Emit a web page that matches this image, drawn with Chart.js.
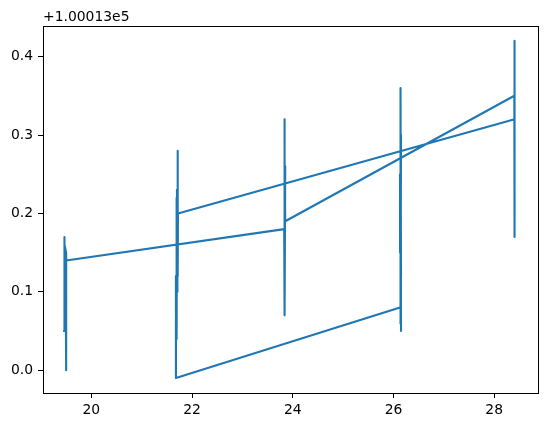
<!DOCTYPE html>
<html>
<head>
<meta charset="utf-8">
<script src="https://cdn.jsdelivr.net/npm/chart.js@4"></script>
<style>
  html, body { margin: 0; padding: 0; background: #fff; }
  #chart { display: block; }
</style>
</head>
<body>
<canvas id="chart" width="547" height="428"></canvas>
<script>
// Path visits the five clusters in the order 1 -> 3 -> 5 -> 2 -> 4.
// y values are shown relative to the axis offset below.
const xs = [
    19.46, 19.46, 19.47, 19.47, 19.50, 19.50, 19.49, 19.50,
    23.83, 23.84, 23.83, 23.84, 23.84, 23.85, 23.84, 23.84, 23.85,
    28.40, 28.40, 28.41, 28.40, 28.41, 28.41, 28.40, 28.40,
    21.72, 21.72, 21.71, 21.70, 21.71, 21.70, 21.69, 21.70, 21.69, 21.68, 21.68,
    26.13, 26.14, 26.15, 26.14, 26.15, 26.14, 26.13, 26.15, 26.14,
];
const ys = [
    0.05, 0.17, 0.06, 0.16, 0.15, 0.00, 0.12, 0.14,
    0.18, 0.32, 0.09, 0.30, 0.07, 0.26, 0.10, 0.25, 0.19,
    0.35, 0.42, 0.25, 0.41, 0.17, 0.30, 0.26, 0.32,
    0.20, 0.28, 0.12, 0.23, 0.10, 0.22, 0.07, 0.21, 0.04, 0.12, -0.01,
    0.08, 0.36, 0.05, 0.33, 0.12, 0.25, 0.15, 0.30, 0.06,
];
const xTicks = [20, 22, 24, 26, 28];
const yTicks = [0.0, 0.1, 0.2, 0.3, 0.4];
const offsetLabel = '+1.00013e5';

const FONT = { family: 'DejaVu Sans', size: 13.9 };

// Four black spines round the plot area plus the axis offset text
const framePlugin = {
    id: 'frame',
    afterDraw(chart) {
        const { ctx, chartArea: a } = chart;
        ctx.save();
        ctx.strokeStyle = '#000';
        ctx.lineWidth = 1;
        ctx.strokeRect(Math.round(a.left) + 0.5, Math.round(a.top) + 0.5,
                       Math.round(a.right - a.left), Math.round(a.bottom - a.top));
        ctx.fillStyle = '#000';
        ctx.font = `${FONT.size}px ${FONT.family}`;
        ctx.textAlign = 'left';
        ctx.textBaseline = 'alphabetic';
        ctx.fillText(offsetLabel, a.left, a.top - 5);
        ctx.restore();
    },
};

const tickGrid = {
    display: true,
    drawOnChartArea: false,
    drawTicks: true,
    tickLength: 5,
    color: '#000',
    lineWidth: 1,
};

new Chart(document.getElementById('chart'), {
    type: 'scatter',
    data: {
        datasets: [{
            data: xs.map((x, i) => ({ x, y: ys[i] })),
            showLine: true,
            borderColor: '#1f77b4',
            borderWidth: 2.1,
            borderJoinStyle: 'round',
            borderCapStyle: 'square',
            pointRadius: 0,
            tension: 0,
        }],
    },
    options: {
        responsive: false,
        animation: false,
        layout: { padding: { left: 0, right: 9, top: 26, bottom: 0 } },
        plugins: {
            legend: { display: false },
            tooltip: { enabled: false },
        },
        scales: {
            x: {
                type: 'linear',
                min: 19.04,
                max: 28.87,
                afterBuildTicks: s => { s.ticks = xTicks.map(v => ({ value: v })); },
                afterFit: s => { s.height = 35; },
                grid: tickGrid,
                border: { display: false },
                ticks: {
                    color: '#000',
                    font: FONT,
                    padding: 4,
                    maxRotation: 0,
                    callback: v => String(v),
                },
            },
            y: {
                type: 'linear',
                min: -0.029,
                max: 0.439,
                afterBuildTicks: s => { s.ticks = yTicks.map(v => ({ value: v })); },
                afterFit: s => { s.width = 43; },
                grid: tickGrid,
                border: { display: false },
                ticks: {
                    color: '#000',
                    font: FONT,
                    padding: 5,
                    callback: v => v.toFixed(1),
                },
            },
        },
    },
    plugins: [framePlugin],
});
</script>
</body>
</html>
